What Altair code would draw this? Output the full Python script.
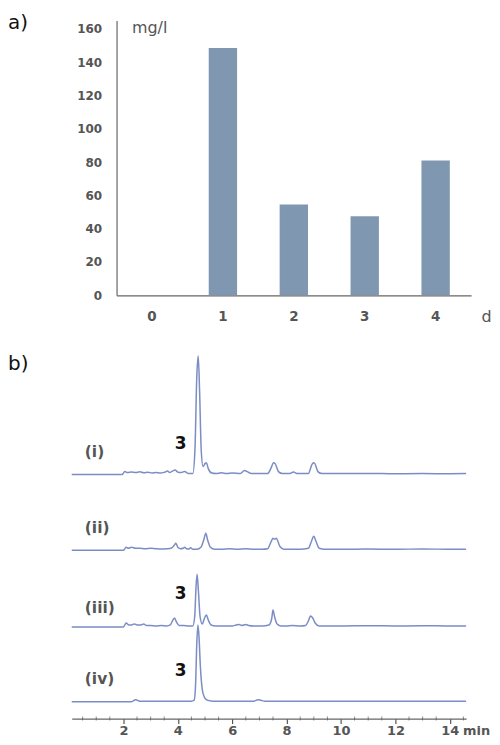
import altair as alt
import pandas as pd

# ---------------- panel a) data ----------------
days = ["0", "1", "2", "3", "4"]
conc_mg_l = [0, 148.5, 54.5, 47.5, 81]
y_ticks_a = [0, 20, 40, 60, 80, 100, 120, 140, 160]

# ---------------- panel b) data (retention time in min, signal above own baseline) ----------------
trace_names = ["(i)", "(ii)", "(iii)", "(iv)"]
trace_offsets = [245, 169, 92, 17]

t_i = [0.1, 1.95, 2.05, 2.15, 2.3, 2.45, 2.6, 2.75, 2.9, 3.05, 3.2, 3.35, 3.5, 3.62, 3.7, 3.8, 3.9, 4.0,
       4.1, 4.25, 4.4, 4.55, 4.63, 4.7, 4.75, 4.8, 4.86, 4.93, 5.0, 5.05, 5.12, 5.25, 5.4, 5.6, 5.8, 6.0,
       6.3, 6.45, 6.55, 6.7, 7.0, 7.3, 7.42, 7.52, 7.58, 7.7, 7.85, 8.1, 8.25, 8.4, 8.8, 8.93, 8.98, 9.04,
       9.15, 9.3, 10.0, 11.0, 12.0, 13.0, 14.0, 14.6]
h_i = [0, 0, 3, 2, 2.5, 2, 2.8, 1.8, 2.4, 1.5, 2, 1.5, 2.2, 3.5, 2, 3.5, 4.5, 2.5,
       2, 3, 1, 1, 25, 100, 119, 85, 25, 8, 11, 12, 6, 1.5, 1, 1.8, 1, 1.5,
       1, 4, 3, 1, 1, 1, 6, 12, 11, 3, 1, 1, 2.5, 1, 1, 10, 12, 11,
       3, 1, 1, 1.2, 0.8, 1, 0.9, 1]

t_ii = [0.1, 2.0, 2.1, 2.18, 2.3, 2.45, 2.6, 2.8, 3.0, 3.2, 3.4, 3.6, 3.75, 3.87, 3.93, 4.0, 4.1, 4.2,
        4.25, 4.32, 4.4, 4.47, 4.55, 4.7, 4.85, 4.95, 5.03, 5.1, 5.2, 5.35, 5.6, 5.9, 6.2, 6.5, 6.8, 7.1,
        7.3, 7.42, 7.5, 7.56, 7.62, 7.75, 7.9, 8.2, 8.5, 8.8, 8.9, 9.0, 9.08, 9.2, 9.4, 10.0, 11.0, 12.0,
        13.0, 14.0, 14.6]
h_ii = [0, 0, 3, 2, 3, 2, 2, 1.5, 2, 1.5, 1.2, 1.5, 2, 5, 7, 3, 1.5, 2,
        3, 1.5, 1.2, 2.5, 1, 1, 3, 10, 17, 10, 3, 1, 1, 1.5, 1, 1.5, 1, 1,
        1.5, 8, 12, 11, 12, 4, 1, 1, 1, 2, 8, 14, 9, 2, 1, 1, 1.2, 1,
        1.3, 1, 1]

t_iii = [0.1, 2.0, 2.1, 2.2, 2.3, 2.4, 2.5, 2.65, 2.75, 2.85, 3.0, 3.2, 3.4, 3.6, 3.72, 3.82, 3.88, 3.95,
         4.05, 4.2, 4.4, 4.55, 4.62, 4.67, 4.71, 4.76, 4.82, 4.9, 4.97, 5.05, 5.12, 5.22, 5.4, 5.7, 6.0,
         6.15, 6.25, 6.35, 6.5, 6.6, 6.8, 7.1, 7.35, 7.45, 7.5, 7.56, 7.65, 7.8, 8.0, 8.2, 8.5, 8.7, 8.8,
         8.88, 8.96, 9.05, 9.2, 9.5, 10.0, 11.0, 12.0, 13.0, 14.0, 14.6]
h_iii = [0, 0, 4, 2, 2, 3, 2, 2, 3, 1.5, 1.5, 1, 1.5, 1, 2, 7, 9, 5,
         1.5, 1.5, 1, 1, 10, 40, 53, 35, 10, 3, 8, 12, 7, 2, 1, 1, 1,
         2, 2.5, 1.5, 2.5, 1.5, 1, 1, 2, 8, 17, 10, 3, 1, 1, 1.5, 1, 1.5, 6,
         11, 9, 4, 1, 1, 1, 1.2, 1, 1.2, 1, 1]

t_iv = [0.1, 2.3, 2.45, 2.6, 3.0, 4.0, 4.5, 4.6, 4.65, 4.7, 4.74, 4.78, 4.83, 4.9, 4.97, 5.05, 5.15, 5.3,
        6.0, 6.8, 6.95, 7.05, 7.2, 8.0, 9.0, 10.0, 11.0, 12.0, 13.0, 14.0, 14.6]
h_iv = [0, 0, 2, 0.5, 0.5, 0.5, 0.5, 1.5, 15, 60, 77, 65, 35, 12, 5, 2, 1, 0.5,
        0.5, 0.5, 2, 1.5, 0.5, 0.5, 0.5, 0.5, 0.5, 0.5, 0.5, 0.5, 0.5]

label_t = [0.58, 0.58, 0.58, 0.58]
label_dy = [23, 22, 19, 23]
peak_label = ["3", "3", "3"]
peak_label_t = [4.1, 4.1, 4.1]
peak_label_trace = [0, 2, 3]
peak_label_dy = [31, 33, 31]

x_major_b = [2, 4, 6, 8, 10, 12, 14]
x_minor_b = [0.5, 1.0, 1.5, 2.5, 3.0, 3.5, 4.5, 5.0, 5.5, 6.5, 7.0, 7.5, 8.5, 9.0, 9.5,
             10.5, 11.0, 11.5, 12.5, 13.0, 13.5, 14.5]

BAR = "#8097b2"
LINE = "#7b8dc4"
GREY = "#555555"
AXIS = "#666666"

# ---------------- panel a) ----------------
bars_df = pd.DataFrame({"day": days, "conc": conc_mg_l})

bars = alt.Chart(bars_df).mark_bar(color=BAR).encode(
    x=alt.X("day:O",
            scale=alt.Scale(range=[45, 401], paddingInner=0.6, paddingOuter=0.3),
            axis=alt.Axis(title="d", titleX=416, titleY=21, titleAngle=0, titleAlign="center",
                          titleBaseline="middle", titleFontWeight="normal", titleFontSize=16,
                          titleColor=GREY, labelAngle=0, labelFontSize=13.5, labelFontWeight="bold",
                          labelColor=GREY, labelPadding=14, ticks=False, tickSize=0,
                          domainColor=AXIS, domainWidth=1.2)),
    y=alt.Y("conc:Q",
            scale=alt.Scale(domain=[0, 165], nice=False),
            axis=alt.Axis(values=y_ticks_a, title="mg/l", titleAngle=0, titleX=15, titleY=7,
                          titleAlign="left", titleBaseline="middle", titleFontWeight="normal",
                          titleFontSize=16, titleColor=GREY, offset=-45, grid=False, ticks=False,
                          tickSize=0, labelPadding=15, labelFontSize=12, labelFontWeight="bold",
                          labelColor=GREY, domainColor=AXIS, domainWidth=1.2)),
)

panel_a_label = alt.Chart(pd.DataFrame({"p": ["a)"]})).mark_text(
    align="left", baseline="middle", fontSize=20, color="#111111"
).encode(x=alt.value(-64), y=alt.value(3), text="p:N")

top = alt.layer(bars, panel_a_label).properties(width=401, height=276)

# ---------------- panel b) ----------------
rows = []
for name, off, ts, hs in zip(trace_names, trace_offsets, [t_i, t_ii, t_iii, t_iv], [h_i, h_ii, h_iii, h_iv]):
    for t, h in zip(ts, hs):
        rows.append({"trace": name, "t": t, "y": off + h})
lines_df = pd.DataFrame(rows)

labels_df = pd.DataFrame({
    "label": trace_names,
    "t": label_t,
    "y": [o + d for o, d in zip(trace_offsets, label_dy)],
})
peaks_df = pd.DataFrame({
    "label": peak_label,
    "t": peak_label_t,
    "y": [trace_offsets[i] + d for i, d in zip(peak_label_trace, peak_label_dy)],
})
minor_df = pd.DataFrame({"t": x_minor_b})

xs = alt.Scale(domain=[0.1, 14.6], nice=False, zero=False)
ys = alt.Scale(domain=[0, 371], nice=False, zero=False)

lines = alt.Chart(lines_df).mark_line(color=LINE, strokeWidth=1.5, interpolate="monotone").encode(
    x=alt.X("t:Q", scale=xs,
            axis=alt.Axis(values=x_major_b, format="d", title="min", titleX=406, titleY=12,
                          titleAngle=0, titleAlign="center", titleBaseline="middle",
                          titleFontWeight="bold", titleFontSize=13, titleColor=GREY,
                          labelFontSize=13, labelFontWeight="bold", labelColor=GREY,
                          labelPadding=1, tickSize=5, tickColor=GREY, tickWidth=1.2,
                          domainColor=AXIS, domainWidth=1.2, grid=False)),
    y=alt.Y("y:Q", scale=ys, axis=None),
    detail="trace:N",
)

minor = alt.Chart(minor_df).mark_tick(orient="vertical", color=GREY, size=4, thickness=1).encode(
    x=alt.X("t:Q", scale=xs),
    y=alt.YDatum(0),
)

trace_labels = alt.Chart(labels_df).mark_text(
    align="left", baseline="middle", fontSize=15.5, fontWeight="bold", color=GREY
).encode(x=alt.X("t:Q", scale=xs), y=alt.Y("y:Q", scale=ys), text="label:N")

peak_labels = alt.Chart(peaks_df).mark_text(
    align="center", baseline="middle", fontSize=17, fontWeight="bold", color="#111111"
).encode(x=alt.X("t:Q", scale=xs), y=alt.Y("y:Q", scale=ys), text="label:N")

panel_b_label = alt.Chart(pd.DataFrame({"p": ["b)"]})).mark_text(
    align="left", baseline="middle", fontSize=20, color="#111111"
).encode(x=alt.value(-64), y=alt.value(15), text="p:N")

bottom = alt.layer(lines, minor, trace_labels, peak_labels, panel_b_label).properties(
    width=396, height=371,
)

chart = alt.vconcat(top, bottom, spacing=25).properties(
    padding={"left": 0, "top": 4, "right": 0, "bottom": 0}
).configure(font="DejaVu Sans").configure_view(stroke=None)

chart.save("out.html", embed_options={"renderer": "svg", "actions": False})
